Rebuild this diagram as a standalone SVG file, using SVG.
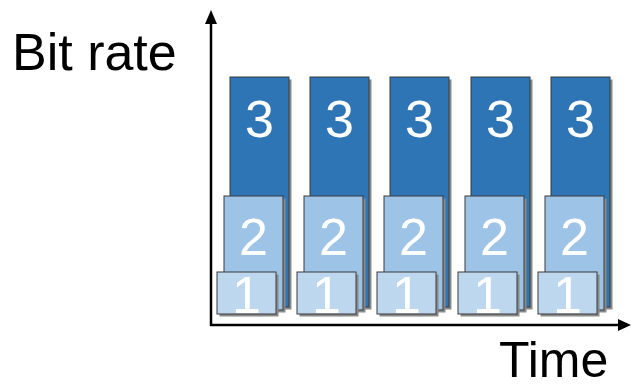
<svg xmlns="http://www.w3.org/2000/svg" width="631" height="388" viewBox="0 0 631 388">
<style>
.sh{fill:#8a8a8a;}
.b3{fill:#2E75B6;stroke:#3a3a3a;stroke-width:1;}
.b2{fill:#9DC3E6;stroke:#3a3a3a;stroke-width:1;}
.b1{fill:#BDD7EE;stroke:#3a3a3a;stroke-width:1;}
.num{font-family:"Liberation Sans",Arial,sans-serif;font-size:52px;fill:#fff;text-anchor:middle;}
.lbl{font-family:"Liberation Sans",Arial,sans-serif;font-size:50px;fill:#000;}
.ax{stroke:#000;stroke-width:2.5;fill:none;}
</style>
<defs>
<g id="col">
<rect class="sh" x="2.5" y="2.5" width="59" height="230"/>
<rect class="b3" x="0" y="0" width="59" height="230"/>
<text class="num" x="29.5" y="60">3</text>
<rect class="sh" x="-3.5" y="121.5" width="59" height="114"/>
<rect class="b2" x="-6" y="119" width="59" height="114"/>
<text class="num" x="23.5" y="178">2</text>
<rect class="sh" x="-10.5" y="197.5" width="59" height="42"/>
<rect class="b1" x="-13" y="195" width="59" height="42"/>
<text class="num" x="16.5" y="236">1</text>
</g>
</defs>
<g id="connectors">
<line class="ax" x1="211" y1="326" x2="211" y2="22"/>
<polygon points="211,10 205,24 217,24" fill="#000"/>
<line class="ax" x1="210" y1="325" x2="620" y2="325"/>
<polygon points="631,325 618,319 618,331" fill="#000"/>
</g>
<g id="col1"><use href="#col" x="230" y="77"/></g>
<g id="col2"><use href="#col" x="310" y="77"/></g>
<g id="col3"><use href="#col" x="390" y="77"/></g>
<g id="col4"><use href="#col" x="471" y="77"/></g>
<g id="col5"><use href="#col" x="551" y="77"/></g>
<g id="ylabel"><text class="lbl" x="12" y="70" style="font-size:52px">Bit rate</text></g>
<g id="xlabel"><text class="lbl" x="499" y="377">Time</text></g>
</svg>
